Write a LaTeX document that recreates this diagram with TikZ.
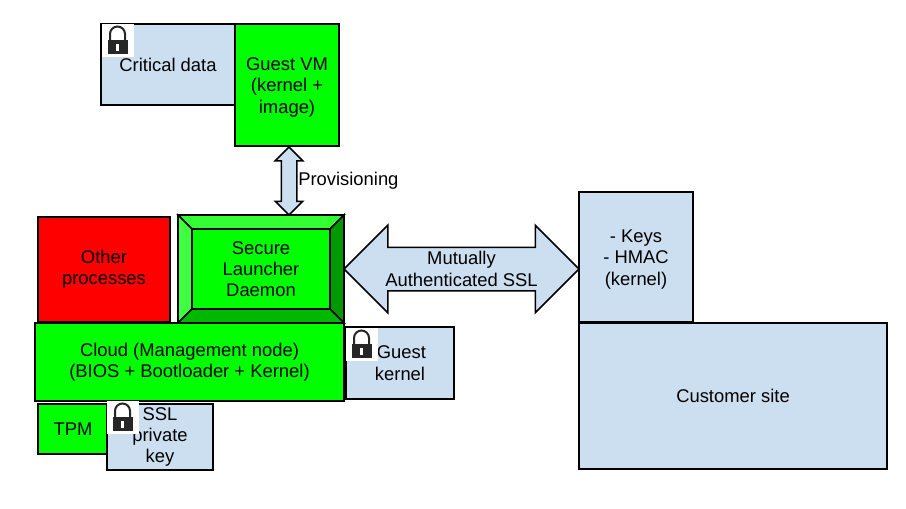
\documentclass[tikz,border=0pt]{standalone}
\usepackage{fontspec}
\setmainfont{Liberation Sans}
\usetikzlibrary{shapes.arrows}
\definecolor{paleblue}{HTML}{CCDFF1}
\definecolor{fullgreen}{HTML}{00FF00}
\def\u{0.75pt}
\begin{document}
\begin{tikzpicture}[x=\u, y=-\u, >=stealth,
	box/.style={draw=black, line width=1.5*\u, outer sep=0pt, inner sep=0pt, align=center, font=\fontsize{13.8}{16}\selectfont},
	bluebox/.style={box, fill=paleblue},
	greenbox/.style={box, fill=fullgreen},
	redbox/.style={box, fill=red},
	blockarrow/.style={shape=double arrow, draw=black, line width=1.5*\u, fill=paleblue, outer sep=0pt, double arrow tip angle=90},
	tag/.style={inner sep=0pt, align=center, font=\fontsize{13.8}{16}\selectfont},
	bevel/.style={draw=black, line width=1.5*\u},
	lockicon/.pic={
		\fill[white] (0,0) rectangle (32,33);
		\draw[black!85, line width=2*\u] (8,17) -- (8,10) arc[start angle=180, end angle=360, x radius=7.5, y radius=7.5] -- (23,17);
		\fill[black!85] (5.5,16) rectangle (25.5,30);
		\fill[white] (14,20) rectangle (17,27);
	}]
	\useasboundingbox (0,0) rectangle (906,508);
	
	% Guest VM and its data
	\node[bluebox, minimum width=134*\u, minimum height=81*\u] (critical) at (168,64.5) {Critical data};
	\node[greenbox, minimum width=104*\u, minimum height=122*\u] (guestvm) at (287,85) {\rule{0pt}{13pt}Guest VM\\(kernel +\\image)};
	
	% Provisioning arrow
	\node[blockarrow, rotate=90, minimum height=68*\u, minimum width=26*\u, inner sep=7*\u, double arrow head extend=6*\u] (provarrow) at (289,181) {};
	\node[tag, anchor=west] (provlabel) at (298,181) {Provisioning};
	
	% Management node stack
	\node[redbox, minimum width=132*\u, minimum height=105*\u] (other) at (104,269.5) {Other\\processes};
	\node[box, fill=fullgreen, minimum width=166*\u, minimum height=108*\u] (sldouter) at (261,269) {};
	\fill[bevel, fill=green!80!white] (sldouter.north west) -- (sldouter.north east) -- (330,229) -- (192,229) -- cycle;
	\fill[bevel, fill=green!75!white, draw=black] (sldouter.north west) -- (192,229) -- (192,309) -- (sldouter.south west) -- cycle;
	\fill[bevel, fill=green!60!black] (sldouter.north east) -- (330,229) -- (330,309) -- (sldouter.south east) -- cycle;
	\fill[bevel, fill=green!72!black] (sldouter.south west) -- (192,309) -- (330,309) -- (sldouter.south east) -- cycle;
	\draw[bevel] (sldouter.north west) rectangle (sldouter.south east);
	\node[greenbox, minimum width=138*\u, minimum height=80*\u] (sld) at (261,269) {Secure\\Launcher\\Daemon};
	\node[greenbox, minimum width=309*\u, minimum height=78*\u] (cloud) at (189.5,362) {Cloud (Management node)\\(BIOS + Bootloader + Kernel)};
	\node[bluebox, minimum width=108*\u, minimum height=72*\u] (guestkernel) at (400,363) {\hspace*{2pt}Guest\\kernel};
	\node[greenbox, minimum width=70*\u, minimum height=50*\u] (tpm) at (73,429) {TPM};
	\node[bluebox, minimum width=106*\u, minimum height=66*\u] (sslkey) at (160,437) {SSL\\private\\key};
	
	% Customer side
	\node[bluebox, minimum width=114*\u, minimum height=130*\u] (keys) at (636,257) {\rule{0pt}{13pt}- Keys\\- HMAC\\(kernel)};
	\node[bluebox, minimum width=308*\u, minimum height=146*\u] (customer) at (733,396) {Customer site};
	
	% SSL arrow between the daemon and the customer
	\node[blockarrow, minimum height=235*\u, minimum width=86*\u, inner sep=21*\u, double arrow head extend=22*\u] (sslarrow) at (461.5,269) {};
	\node[tag] (ssllabel) at (sslarrow) {Mutually\\Authenticated SSL};
	
	% Locks on the protected items
	\foreach \lx/\ly in {102/24, 346/328, 107/401}{
		\pic at (\lx,\ly) {lockicon};
	}
	
\end{tikzpicture}
\end{document}
